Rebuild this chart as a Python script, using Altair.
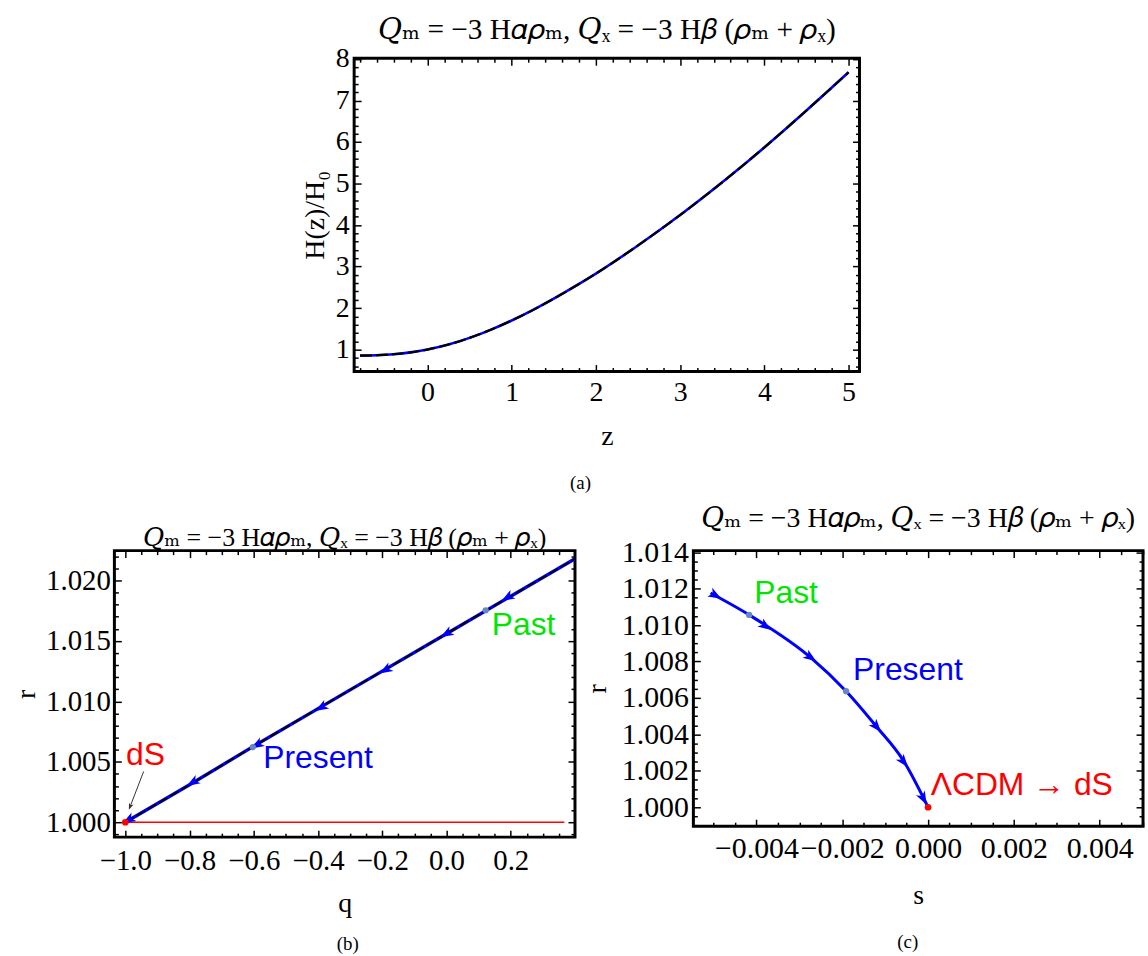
import math
import altair as alt
import pandas as pd

SERIF = "Liberation Serif"
TFONT = "Liberation Serif, DejaVu Serif, serif"
SANS = "Liberation Sans"
BLUE = "#0000ff"
RED = "#ff0000"
GREEN = "#00e600"
DOT = "#6688c4"
TITLE = "𝑄ₘ = −3 H𝛼𝜌ₘ, 𝑄ₓ = −3 H𝛽 (𝜌ₘ + 𝜌ₓ)"
ARROW = "M0,-1L0.7,0.9L0,0.4L-0.7,0.9Z"

# ---------------- panel (a): H(z)/H0 ----------------
z_vals = [-0.8, -0.6, -0.4, -0.2, 0.0, 0.25, 0.5, 0.75, 1.0, 1.25, 1.5, 1.75,
          2.0, 2.5, 3.0, 3.5, 4.0, 4.5, 5.0]
hz_vals = [0.856, 0.864, 0.888, 0.932, 1.0, 1.121, 1.281, 1.475, 1.70, 1.95,
           2.225, 2.52, 2.83, 3.508, 4.24, 5.03, 5.87, 6.76, 7.68]
a_xticks = [0, 1, 2, 3, 4, 5]
a_yticks = [1, 2, 3, 4, 5, 6, 7, 8]

# ---------------- panel (b): r vs q ----------------
q_line = [-1.0, -0.8, -0.6, -0.4, -0.2, 0.0, 0.2, 0.4]
r_line_b = [1.0, 1.0031, 1.0063, 1.0094, 1.0125, 1.0156, 1.0187, 1.0218]
q_arrows = [-0.99, -0.79, -0.59, -0.39, -0.19, 0.0, 0.19]
r_arrows_b = [1.0002, 1.0033, 1.0064, 1.0095, 1.0126, 1.0156, 1.0186]
b_pts_q = [0.122, -0.603]          # Past, Present
b_pts_r = [1.01753, 1.00622]
b_ds_q = [-1.0]
b_ds_r = [1.0]
b_red_q = [-1.0, 0.367]
b_red_r = [1.0, 1.0]
b_lab_text = ["dS", "Present", "Past"]
b_lab_q = [-0.937, -0.40, 0.24]
b_lab_r = [1.0056, 1.0053, 1.01634]
b_lab_col = [RED, BLUE, GREEN]
b_ptr_q = [-0.943, -0.985]
b_ptr_r = [1.0042, 1.0013]
b_xticks = [-1.0, -0.8, -0.6, -0.4, -0.2, 0.0, 0.2]
b_yticks = [1.000, 1.005, 1.010, 1.015, 1.020]

# ---------------- panel (c): r vs s ----------------
s_line = [-0.00507, -0.00417, -0.00274, -0.00191, -0.00120, -0.00057, 0.0]
r_line_c = [1.01176, 1.01056, 1.00823, 1.00637, 1.00442, 1.00254, 1.0]
s_arrows = [-0.00496, -0.00379, -0.00274, -0.00120, -0.00057, -0.00011]
r_arrows_c = [1.01164, 1.00995, 1.00823, 1.00442, 1.00250, 1.00048]
c_pts_s = [-0.00417, -0.00191]     # Past, Present
c_pts_r = [1.01056, 1.00637]
c_end_s = [0.0]
c_end_r = [1.0]
c_lab_text = ["Past", "Present", "ΛCDM → dS"]
c_lab_s = [-0.00331, -0.00047, 0.00006]
c_lab_r = [1.01176, 1.00755, 1.0012]
c_lab_col = [GREEN, BLUE, RED]
c_lab_align = ["center", "center", "left"]
c_xticks = [-0.004, -0.002, 0.0, 0.002, 0.004]
c_yticks = [1.000, 1.002, 1.004, 1.006, 1.008, 1.010, 1.012, 1.014]

# ---------------- geometry ----------------
A_W, A_H, A_X, A_Y = 508, 315, [-0.87, 5.13], [0.47, 8.02]
B_W, B_H, B_X, B_Y = 463, 288, [-1.034, 0.40], [0.99877, 1.02247]
C_W, C_H, C_X, C_Y = 452, 277, [-0.00547, 0.00501], [0.99896, 1.01409]


def minors(lo, hi, step, major_step, nd):
    out = []
    k = math.ceil(lo / step - 1e-9)
    while k * step <= hi + 1e-12:
        v = round(k * step, nd)
        if abs(v / major_step - round(v / major_step)) > 1e-6:
            out.append(v)
        k += 1
    return out


def angles(xl, yl, xa, W, H, xd, yd, reverse):
    kx = W / (xd[1] - xd[0])
    ky = H / (yd[1] - yd[0])
    res = []
    for x in xa:
        i = 0
        while i < len(xl) - 2 and xl[i + 1] < x:
            i += 1
        dx = (xl[i + 1] - xl[i]) * kx
        dy = -(yl[i + 1] - yl[i]) * ky
        if reverse:
            dx, dy = -dx, -dy
        res.append(math.degrees(math.atan2(dx, -dy)) % 360)
    return res


def axis(orient, values, L, labels=False, fmt=None, title=None, lsize=27,
         tsize=28, lpad=6, tpad=8):
    kw = dict(orient=orient, values=values, tickSize=L, offset=-L, domain=False,
              grid=False, ticks=True, tickColor="black", tickWidth=1.5,
              labels=labels, title=title)
    if labels:
        kw.update(format=fmt, labelFont=SERIF, labelFontSize=lsize,
                  labelColor="black", labelPadding=lpad, labelOverlap=False,
                  labelFlush=False, labelBound=False)
    if title is not None:
        kw.update(titleFont=SERIF, titleFontSize=tsize, titleFontWeight="normal",
                  titleColor="black", titlePadding=tpad)
    return alt.Axis(**kw)


def caption_axis(text, pad, tx):
    return alt.Axis(orient="bottom", ticks=False, labels=False, domain=False,
                    grid=False, title=text, titleFont=SERIF, titleFontSize=19,
                    titleFontWeight="normal", titleColor="black",
                    titlePadding=pad, titleX=tx)


def frame_layers(xs, ys, xd, yd, xmaj, xmin_, ymaj, ymin_, xfmt, yfmt,
                 xtitle, ytitle, lsize, tsize, xlpad, ylpad, xtpad, ytpad,
                 cap, cap_pad, cap_x):
    dummy = pd.DataFrame({"x": xd, "y": yd})
    specs = [
        (axis("bottom", xmaj, 7, True, xfmt, xtitle, lsize, tsize, xlpad, xtpad),
         axis("left", ymaj, 7, True, yfmt, ytitle, lsize, tsize, ylpad, ytpad)),
        (axis("top", xmaj, 7), axis("right", ymaj, 7)),
        (axis("bottom", xmin_, 4), axis("left", ymin_, 4)),
        (axis("top", xmin_, 4), axis("right", ymin_, 4)),
        (caption_axis(cap, cap_pad, cap_x), None),
    ]
    out = []
    for xa, ya in specs:
        out.append(alt.Chart(dummy).mark_point(opacity=0).encode(
            x=alt.X("x:Q", scale=xs, axis=xa),
            y=alt.Y("y:Q", scale=ys, axis=ya),
        ))
    return out


def title(size, offset):
    return alt.TitleParams(TITLE, font=TFONT, fontSize=size, fontWeight="normal",
                           color="black", offset=offset, anchor="middle",
                           frame="group")


# ---------------- build panel (a) ----------------
xa_s = alt.Scale(domain=A_X, nice=False, zero=False)
ya_s = alt.Scale(domain=A_Y, nice=False, zero=False)
df_a = pd.DataFrame({"x": z_vals, "y": hz_vals})
a_blue = alt.Chart(df_a).mark_line(color=BLUE, strokeWidth=2.6, interpolate="monotone").encode(
    x=alt.X("x:Q", scale=xa_s, axis=None), y=alt.Y("y:Q", scale=ya_s, axis=None))
a_black = alt.Chart(df_a).mark_line(color="black", strokeWidth=2.2, strokeDash=[12, 4],
                                    interpolate="monotone").encode(
    x=alt.X("x:Q", scale=xa_s, axis=None), y=alt.Y("y:Q", scale=ya_s, axis=None))
a_frames = frame_layers(
    xa_s, ya_s, A_X, A_Y, a_xticks, minors(-0.8, 5.0, 0.2, 1, 1),
    a_yticks, minors(0.6, 8.0, 0.2, 1, 1), "d", "d", "z", "H(z)/H₀",
    28, 28, 7, 5, 16, 6, "(a)", 103, 227)
panel_a = alt.layer(a_blue, a_black, *a_frames).resolve_axis(
    x="independent", y="independent").properties(
    width=A_W, height=A_H, title=title(29.5, 0))

spacer = alt.Chart(pd.DataFrame({"x": [0]})).mark_point(opacity=0).encode(
    x=alt.X("x:Q", axis=None), y=alt.Y("x:Q", axis=None)
).properties(width=186, height=10, view=alt.ViewBackground(strokeOpacity=0))

top_row = alt.hconcat(spacer, panel_a, spacing=0)

# ---------------- build panel (b) ----------------
xb_s = alt.Scale(domain=B_X, nice=False, zero=False)
yb_s = alt.Scale(domain=B_Y, nice=False, zero=False)
df_b = pd.DataFrame({"x": q_line, "y": r_line_b})
df_b_arr = pd.DataFrame({"x": q_arrows, "y": r_arrows_b,
                         "ang": angles(q_line, r_line_b, q_arrows, B_W, B_H, B_X, B_Y, True)})
df_b_pts = pd.DataFrame({"x": b_pts_q, "y": b_pts_r})
df_b_ds = pd.DataFrame({"x": b_ds_q, "y": b_ds_r})
df_b_red = pd.DataFrame({"x": b_red_q, "y": b_red_r})
df_b_lab = pd.DataFrame({"x": b_lab_q, "y": b_lab_r, "t": b_lab_text, "c": b_lab_col})
df_b_ptr = pd.DataFrame({"x": b_ptr_q, "y": b_ptr_r})
df_b_ptrhead = pd.DataFrame({"x": [b_ptr_q[1]], "y": [b_ptr_r[1]],
                             "ang": angles(b_ptr_q[::-1], b_ptr_r[::-1], [b_ptr_q[1]],
                                           B_W, B_H, B_X, B_Y, True)})


def enc_b():
    return dict(x=alt.X("x:Q", scale=xb_s, axis=None), y=alt.Y("y:Q", scale=yb_s, axis=None))


b_layers = [
    alt.Chart(df_b_red).mark_line(color=RED, strokeWidth=1.6).encode(**enc_b()),
    alt.Chart(df_b).mark_line(color=BLUE, strokeWidth=3.4, clip=True).encode(**enc_b()),
    alt.Chart(df_b).mark_line(color="black", strokeWidth=1.8, strokeDash=[10, 3],
                              clip=True).encode(**enc_b()),
    alt.Chart(df_b_arr).mark_point(shape=ARROW, filled=True, color=BLUE, opacity=1,
                                   size=200, strokeWidth=0).encode(
        angle=alt.Angle("ang:Q", scale=None), **enc_b()),
    alt.Chart(df_b_pts).mark_point(shape="circle", filled=True, color=DOT, opacity=1,
                                   size=40).encode(**enc_b()),
    alt.Chart(df_b_ds).mark_point(shape="circle", filled=True, color=RED, opacity=1,
                                  size=45).encode(**enc_b()),
    alt.Chart(df_b_ptr).mark_line(color="#333333", strokeWidth=1).encode(**enc_b()),
    alt.Chart(df_b_ptrhead).mark_point(shape=ARROW, filled=True, color="#333333",
                                       opacity=1, size=50, strokeWidth=0).encode(
        angle=alt.Angle("ang:Q", scale=None), **enc_b()),
    alt.Chart(df_b_lab).mark_text(font=SANS, fontSize=32, align="center",
                                  baseline="middle").encode(
        text="t:N", color=alt.Color("c:N", scale=None), **enc_b()),
]
b_frames = frame_layers(
    xb_s, yb_s, B_X, B_Y, b_xticks, minors(-1.0, 0.4, 0.05, 0.2, 2),
    b_yticks, minors(0.999, 1.022, 0.001, 0.005, 3), ".1f", ".3f", "q", "r",
    29, 28, 10, 4, 14, 5, "(b)", 98, 234)
panel_b = alt.layer(*b_layers, *b_frames).resolve_axis(
    x="independent", y="independent").properties(
    width=B_W, height=B_H, title=title(26, -3))

# ---------------- build panel (c) ----------------
xc_s = alt.Scale(domain=C_X, nice=False, zero=False)
yc_s = alt.Scale(domain=C_Y, nice=False, zero=False)
df_c = pd.DataFrame({"x": s_line, "y": r_line_c})
df_c_arr = pd.DataFrame({"x": s_arrows, "y": r_arrows_c,
                         "ang": angles(s_line, r_line_c, s_arrows, C_W, C_H, C_X, C_Y, False)})
df_c_pts = pd.DataFrame({"x": c_pts_s, "y": c_pts_r})
df_c_end = pd.DataFrame({"x": c_end_s, "y": c_end_r})
df_c_lab = pd.DataFrame({"x": c_lab_s, "y": c_lab_r, "t": c_lab_text, "c": c_lab_col,
                         "a": c_lab_align})


def enc_c():
    return dict(x=alt.X("x:Q", scale=xc_s, axis=None), y=alt.Y("y:Q", scale=yc_s, axis=None))


c_layers = [
    alt.Chart(df_c).mark_line(color=BLUE, strokeWidth=3, interpolate="monotone",
                              clip=True).encode(**enc_c()),
    alt.Chart(df_c_arr).mark_point(shape=ARROW, filled=True, color=BLUE, opacity=1,
                                   size=200, strokeWidth=0).encode(
        angle=alt.Angle("ang:Q", scale=None), **enc_c()),
    alt.Chart(df_c_pts).mark_point(shape="circle", filled=True, color=DOT, opacity=1,
                                   size=40).encode(**enc_c()),
    alt.Chart(df_c_end).mark_point(shape="circle", filled=True, color=RED, opacity=1,
                                   size=45).encode(**enc_c()),
    alt.Chart(df_c_lab[df_c_lab["a"] == "center"]).mark_text(
        font=SANS, fontSize=32, align="center", baseline="middle").encode(
        text="t:N", color=alt.Color("c:N", scale=None), **enc_c()),
    alt.Chart(df_c_lab[df_c_lab["a"] == "left"]).mark_text(
        font=SANS, fontSize=32, align="left", baseline="middle").encode(
        text="t:N", color=alt.Color("c:N", scale=None), **enc_c()),
]
c_frames = frame_layers(
    xc_s, yc_s, C_X, C_Y, c_xticks, minors(-0.0055, 0.005, 0.0005, 0.002, 4),
    c_yticks, minors(0.999, 1.014, 0.0005, 0.002, 4), ".3f", ".3f", "s", "r",
    30, 28, 7, 5, 19, 10, "(c)", 107, 215)
panel_c = alt.layer(*c_layers, *c_frames).resolve_axis(
    x="independent", y="independent").properties(
    width=C_W, height=C_H, title=title(28, 4))

bottom = alt.hconcat(panel_b, panel_c, spacing=2)
chart = alt.vconcat(top_row, bottom, spacing=9).properties(
    padding={"left": 11, "top": 10, "right": 0, "bottom": 0},
    background="white",
).configure_view(stroke="black", strokeWidth=3)

chart.save("out.html", embed_options={"renderer": "svg", "actions": False})
